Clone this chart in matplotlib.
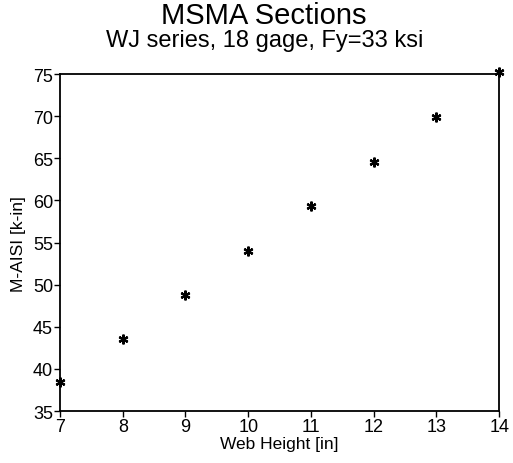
import matplotlib
matplotlib.use('Agg')
import matplotlib.pyplot as plt

# values
web_height = [7, 8, 9, 10, 11, 12, 13, 14]
m_aisi = [38.4, 43.6, 48.8, 54.0, 59.3, 64.6, 69.9, 75.3]

x_ticks = [7, 8, 9, 10, 11, 12, 13, 14]
y_ticks = [35, 40, 45, 50, 55, 60, 65, 70, 75]

plt.rcParams['font.family'] = ['Liberation Sans', 'DejaVu Sans']

fig = plt.figure(figsize=(5.13, 4.64), dpi=100)
ax = fig.add_axes([0.117, 0.112, 0.856, 0.726])

ax.plot(web_height, m_aisi, linestyle='none', marker=(6, 2, 0), markersize=7,
        markeredgewidth=1.6, color='black', clip_on=False)

ax.set_xlim(7, 14)
ax.set_ylim(35, 75)
ax.set_xticks(x_ticks)
ax.set_yticks(y_ticks)
ax.tick_params(direction='out', length=4, width=1, labelsize=13, pad=1, colors='black')
for s in ax.spines.values():
    s.set_linewidth(1.3)

ax.set_xlabel('Web Height [in]', fontsize=12.5, labelpad=1)
ax.set_ylabel('M-AISI [k-in]', fontsize=12.5, labelpad=5)

fig.text(0.515, 0.948, 'MSMA Sections', fontsize=21, ha='center', va='baseline')
fig.text(0.515, 0.899, 'WJ series, 18 gage, Fy=33 ksi', fontsize=17, ha='center', va='baseline')

fig.savefig('out.png', dpi=100)
